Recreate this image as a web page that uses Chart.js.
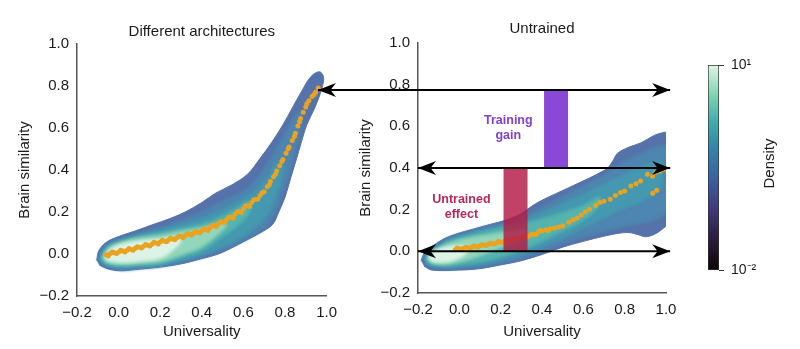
<!DOCTYPE html>
<html>
<head>
<meta charset="utf-8">
<title>Brain similarity vs universality</title>
<script src="https://cdn.jsdelivr.net/npm/chart.js@4.4.1/dist/chart.umd.min.js"></script>
<style>
  html, body { margin: 0; padding: 0; background: #fff; }
  #wrap { position: relative; width: 800px; height: 349px; overflow: hidden; }
  canvas { position: absolute; top: 0; }
  #left { left: 0; }
  #right { left: 300px; }
  #cbar { left: 690px; }
</style>
</head>
<body>
<div id="wrap">
  <canvas id="left" width="345" height="349"></canvas>
  <canvas id="right" width="390" height="349"></canvas>
  <canvas id="cbar" width="110" height="349"></canvas>
</div>
<script>
// ---- data ----
const X_TICKS = [-0.2, 0.0, 0.2, 0.4, 0.6, 0.8, 1.0];
const Y_TICKS = [-0.2, 0.0, 0.2, 0.4, 0.6, 0.8, 1.0];
const CBAR_TICKS = [0.01, 10];
const CBAR_LABELS = ["10\u207B\u00B2", "10\u00B9"];

// density contours (outer -> inner), "Different architectures"
const archContours = [
  [[-0.105,-0.03],[-0.095,0.015],[-0.06,0.055],[0.0,0.083],[0.08,0.11],[0.165,0.14],[0.25,0.17],[0.32,0.2],[0.40,0.245],[0.467,0.29],[0.546,0.33],[0.62,0.38],[0.68,0.455],[0.735,0.53],[0.79,0.615],[0.835,0.695],[0.88,0.775],[0.925,0.845],[0.965,0.868],[0.985,0.845],[0.978,0.79],[0.945,0.70],[0.905,0.615],[0.878,0.53],[0.856,0.455],[0.83,0.37],[0.80,0.27],[0.77,0.2],[0.74,0.14],[0.68,0.1],[0.60,0.058],[0.55,0.032],[0.48,0.0],[0.40,-0.022],[0.32,-0.043],[0.24,-0.057],[0.165,-0.066],[0.08,-0.074],[0.006,-0.08],[-0.055,-0.07],[-0.093,-0.052]],
  [[-0.1,-0.03],[-0.085,0.015],[-0.05,0.05],[0.03,0.077],[0.1,0.098],[0.2,0.125],[0.3,0.16],[0.4,0.2],[0.5,0.25],[0.6,0.3],[0.68,0.38],[0.74,0.47],[0.8,0.57],[0.85,0.66],[0.88,0.68],[0.875,0.6],[0.85,0.5],[0.825,0.4],[0.79,0.3],[0.755,0.2],[0.705,0.13],[0.6,0.065],[0.5,0.02],[0.4,-0.015],[0.3,-0.038],[0.2,-0.058],[0.1,-0.068],[0.03,-0.075],[-0.04,-0.066],[-0.085,-0.05]],
  [[-0.09,-0.028],[-0.078,0.012],[-0.045,0.045],[0.03,0.072],[0.1,0.09],[0.2,0.113],[0.3,0.14],[0.4,0.168],[0.5,0.21],[0.6,0.262],[0.67,0.31],[0.72,0.37],[0.765,0.44],[0.79,0.42],[0.775,0.33],[0.745,0.25],[0.7,0.17],[0.6,0.085],[0.5,0.035],[0.4,-0.005],[0.3,-0.03],[0.2,-0.052],[0.1,-0.06],[0.03,-0.066],[-0.03,-0.06],[-0.075,-0.046]],
  [[-0.082,-0.025],[-0.07,0.01],[-0.04,0.04],[0.03,0.066],[0.1,0.083],[0.2,0.1],[0.3,0.122],[0.4,0.142],[0.5,0.18],[0.58,0.225],[0.63,0.25],[0.625,0.19],[0.56,0.125],[0.48,0.07],[0.4,0.015],[0.3,-0.018],[0.2,-0.046],[0.1,-0.053],[0.03,-0.057],[-0.03,-0.053],[-0.07,-0.04]],
  [[-0.075,-0.022],[-0.064,0.008],[-0.035,0.036],[0.03,0.06],[0.1,0.075],[0.2,0.088],[0.3,0.108],[0.4,0.125],[0.48,0.145],[0.52,0.14],[0.48,0.095],[0.4,0.035],[0.3,-0.003],[0.2,-0.036],[0.1,-0.044],[0.03,-0.049],[-0.03,-0.045],[-0.065,-0.035]],
  [[-0.066,-0.018],[-0.055,0.006],[-0.03,0.03],[0.03,0.05],[0.1,0.062],[0.2,0.07],[0.28,0.08],[0.3,0.06],[0.25,0.01],[0.2,-0.02],[0.1,-0.035],[0.03,-0.04],[-0.03,-0.036],[-0.058,-0.028]]
];

// density contours (outer -> inner), "Untrained"
const untrainedContours = [
  [[-0.185,-0.045],[-0.17,-0.01],[-0.13,0.025],[-0.053,0.07],[0.108,0.118],[0.27,0.166],[0.38,0.235],[0.55,0.315],[0.71,0.394],[0.74,0.43],[0.765,0.47],[0.82,0.5],[0.877,0.52],[0.94,0.555],[0.975,0.567],[1.01,0.567],[1.01,0.14],[0.98,0.105],[0.94,0.08],[0.9,0.07],[0.865,0.08],[0.82,0.09],[0.76,0.085],[0.71,0.075],[0.6,0.048],[0.5,0.02],[0.4,-0.015],[0.3,-0.045],[0.2,-0.065],[0.1,-0.083],[0.0,-0.09],[-0.133,-0.09],[-0.17,-0.072]],
  [[-0.175,-0.042],[-0.16,-0.008],[-0.12,0.022],[-0.05,0.062],[0.1,0.108],[0.27,0.152],[0.4,0.21],[0.55,0.29],[0.7,0.365],[0.78,0.42],[0.88,0.47],[1.01,0.5],[1.01,0.2],[0.94,0.15],[0.85,0.13],[0.75,0.11],[0.6,0.07],[0.5,0.038],[0.4,0.0],[0.3,-0.035],[0.2,-0.055],[0.1,-0.073],[-0.05,-0.083],[-0.13,-0.078],[-0.165,-0.062]],
  [[-0.168,-0.04],[-0.15,-0.006],[-0.11,0.02],[-0.05,0.056],[0.1,0.1],[0.27,0.14],[0.4,0.185],[0.55,0.25],[0.7,0.32],[0.82,0.38],[0.92,0.42],[0.98,0.43],[0.97,0.3],[0.88,0.24],[0.78,0.2],[0.68,0.15],[0.55,0.09],[0.45,0.045],[0.35,0.005],[0.25,-0.03],[0.1,-0.062],[-0.05,-0.075],[-0.12,-0.072],[-0.158,-0.058]],
  [[-0.16,-0.038],[-0.14,-0.005],[-0.1,0.018],[-0.05,0.048],[0.1,0.088],[0.25,0.12],[0.4,0.155],[0.5,0.185],[0.6,0.22],[0.68,0.26],[0.66,0.2],[0.58,0.14],[0.48,0.09],[0.38,0.04],[0.25,-0.01],[0.1,-0.05],[-0.05,-0.068],[-0.12,-0.066],[-0.15,-0.054]],
  [[-0.155,-0.036],[-0.135,-0.005],[-0.1,0.015],[-0.05,0.038],[0.05,0.065],[0.15,0.08],[0.25,0.095],[0.32,0.1],[0.3,0.06],[0.2,0.02],[0.1,-0.02],[0.0,-0.05],[-0.08,-0.062],[-0.14,-0.052]],
  [[-0.15,-0.034],[-0.13,-0.008],[-0.1,0.01],[-0.05,0.022],[0.0,0.026],[0.05,0.02],[0.02,-0.02],[-0.04,-0.046],[-0.1,-0.052],[-0.135,-0.046]]
];

// model points
const archDots = [
  [-0.06,-0.004],[-0.04,0.002],[-0.02,0.006],[0.0,0.01],[0.02,0.014],[0.04,0.018],[0.06,0.022],[0.08,0.027],[0.10,0.032],[0.12,0.037],[0.14,0.042],[0.16,0.047],[0.18,0.052],[0.20,0.057],[0.22,0.062],[0.24,0.067],[0.26,0.072],[0.28,0.077],[0.30,0.083],[0.32,0.088],[0.34,0.094],[0.36,0.099],[0.38,0.104],[0.40,0.11],[0.42,0.117],[0.44,0.125],[0.46,0.134],[0.48,0.143],[0.50,0.153],[0.52,0.164],[0.54,0.176],[0.56,0.189],[0.58,0.202],[0.60,0.216],[0.62,0.23],[0.64,0.245],[0.66,0.26],[0.68,0.278],[0.70,0.297],[0.715,0.32],[0.73,0.345],[0.745,0.368],[0.76,0.395],[0.775,0.42],[0.79,0.45],[0.805,0.48],[0.82,0.51],[0.835,0.54],[0.85,0.575],[0.862,0.61],[0.875,0.645],[0.888,0.675],[0.90,0.70],[0.915,0.73],[0.93,0.75],[0.947,0.77],[0.96,0.79],
  [-0.05,-0.01],[-0.03,0.01],[-0.01,0.002],[0.01,0.018],[0.03,0.01],[0.05,0.026],[0.07,0.018],[0.09,0.035],[0.11,0.028],[0.13,0.045],[0.15,0.038],[0.17,0.056],[0.19,0.048],[0.21,0.066],[0.23,0.058],[0.25,0.076],[0.27,0.068],[0.29,0.086],[0.31,0.078],[0.33,0.098],[0.35,0.09],[0.37,0.108],[0.39,0.1],[0.41,0.12],[0.43,0.112],[0.45,0.136],[0.47,0.13],[0.49,0.154],[0.51,0.15],[0.53,0.175],[0.55,0.17],[0.57,0.2],[0.59,0.198],[0.61,0.228],[0.63,0.226],[0.65,0.258],[0.67,0.262],[0.69,0.292],[0.725,0.33],[0.755,0.38],[0.785,0.44],[0.815,0.5],[0.845,0.56],[0.87,0.63],[0.905,0.715],[0.94,0.76]
];
const untrainedDots = [
  [-0.02,0.008],[0.0,0.012],[0.02,0.015],[0.04,0.018],[0.06,0.02],[0.08,0.024],[0.1,0.027],[0.12,0.03],[0.14,0.034],[0.16,0.037],[0.18,0.04],[0.2,0.045],[0.22,0.05],[0.24,0.054],[0.26,0.058],[0.28,0.063],[0.3,0.067],[0.32,0.072],[0.34,0.076],[0.36,0.082],[0.38,0.09],[0.4,0.098],[0.42,0.104],[0.44,0.108],[0.46,0.112],[0.48,0.117],[0.5,0.122],[0.53,0.14],[0.55,0.152],[0.57,0.16],[0.59,0.175],[0.61,0.19],[0.63,0.202],[0.66,0.22],[0.68,0.234],[0.7,0.24],[0.73,0.25],[0.755,0.268],[0.78,0.282],[0.8,0.29],[0.83,0.314],[0.855,0.325],[0.877,0.338],[0.91,0.37],[0.935,0.36],[0.95,0.378],[0.97,0.385],[0.99,0.394],[0.936,0.279],[0.955,0.293],
  [-0.01,0.016],[0.01,0.008],[0.03,0.02],[0.05,0.014],[0.07,0.026],[0.09,0.02],[0.11,0.032],[0.13,0.028],[0.15,0.04],[0.17,0.035],[0.19,0.048],[0.21,0.042],[0.23,0.058],[0.25,0.05],[0.27,0.064],[0.29,0.06],[0.31,0.074],[0.33,0.07],[0.35,0.082],[0.37,0.08],[0.39,0.1],[0.43,0.1]
];

// arrows and effect bars (right panel coordinates)
const topArrow = [[-0.684, 0.775], [1.02, 0.775]];
const midArrow = [[-0.2, 0.4], [1.02, 0.4]];
const lowArrow = [[-0.2, 0.0], [1.02, 0.0]];
const gainBar = [[0.468, 0.4], [0.468, 0.775]];
const effectBar = [[0.272, 0.0], [0.272, 0.4]];

// ---- styling ----
const FONT = "'Liberation Sans', Arial, Helvetica, sans-serif";
const TEXT = "#1a1a1a";
const AXIS = "#555";
const DENSITY_COLORS = ["#5573aa", "#4d86b0", "#4499b0", "#55b4ae", "#93d6bb", "#dcf3e5"];
const DOT_COLOR = "#e9a321";
const MAKO = [[0, "#0b0405"], [0.15, "#2b1c3f"], [0.3, "#403a7a"], [0.45, "#3a62a0"], [0.6, "#3486a8"], [0.72, "#3fabad"], [0.85, "#7dd2b0"], [1, "#def5e5"]];

Chart.defaults.font.family = FONT;
Chart.defaults.color = TEXT;

const toPts = (arr) => arr.map(([x, y]) => ({ x, y }));
const fmt = (v) => (v < -1e-9 ? "\u2212" : "") + Math.abs(v).toFixed(1);

function densityLayers(contours) {
  return contours.map((c, i) => ({
    type: "line",
    data: toPts(c),
    fill: "shape",
    density: i === 0 ? "outer" : i === contours.length - 1 ? "last" : "layer",
    backgroundColor: DENSITY_COLORS[i],
    borderColor: DENSITY_COLORS[i],
    borderWidth: 1,
    pointRadius: 0,
    tension: 0.35,
    order: 100 - i,
  }));
}

function dotsLayer(dots) {
  return {
    type: "scatter",
    data: toPts(dots),
    backgroundColor: DOT_COLOR,
    borderWidth: 0,
    pointRadius: 2.5,
    order: 20,
  };
}

function axes(xHeight, xTitlePad) {
  return {
    x: {
      type: "linear", min: -0.2, max: 1.0,
      grid: { display: false, drawTicks: false },
      border: { display: true, color: AXIS, width: 1.5 },
      ticks: { padding: 8, font: { size: 15 }, color: TEXT, callback: fmt },
      afterBuildTicks: (s) => { s.ticks = X_TICKS.map((v) => ({ value: v })); },
      afterFit: (s) => { s.height = xHeight; },
      title: { display: true, text: "Universality", color: TEXT, font: { size: 15 }, padding: { top: 0, bottom: xTitlePad } },
    },
    y: {
      type: "linear", min: -0.2, max: 1.0,
      grid: { display: false, drawTicks: false },
      border: { display: true, color: AXIS, width: 1.5 },
      ticks: { padding: 8, font: { size: 15 }, color: TEXT, callback: fmt },
      afterBuildTicks: (s) => { s.ticks = Y_TICKS.map((v) => ({ value: v })); },
      afterFit: (s) => { s.width = 77; },
      title: { display: true, text: "Brain similarity", color: TEXT, font: { size: 15 }, padding: { top: 16, bottom: 0 } },
    },
  };
}

// soften the steps between inner density levels, keep the outer edge crisp
const densityBlur = {
  id: "densityBlur",
  afterDatasetDraw(chart, args) {
    const kind = chart.data.datasets[args.index].density;
    if (kind === "outer") {
      chart.ctx.save();
      chart.ctx.filter = "blur(1.6px)";
    } else if (kind === "last") {
      chart.ctx.restore();
    }
  },
};

// stealth arrow heads at the ends of arrow datasets
const arrowHeads = {
  id: "arrowHeads",
  afterDatasetsDraw(chart) {
    const ctx = chart.ctx;
    chart.data.datasets.forEach((ds, i) => {
      if (!ds.arrow) return;
      const pts = chart.getDatasetMeta(i).data;
      const a = pts[0], b = pts[pts.length - 1];
      [[a, -1], [b, 1]].forEach(([p, d]) => {
        ctx.save();
        ctx.fillStyle = "#000";
        ctx.beginPath();
        ctx.moveTo(p.x, p.y);
        ctx.lineTo(p.x - d * 18, p.y - 7);
        ctx.lineTo(p.x - d * 12.5, p.y);
        ctx.lineTo(p.x - d * 18, p.y + 7);
        ctx.closePath();
        ctx.fill();
        ctx.restore();
      });
    });
  },
};

// "Training gain" / "Untrained effect" labels
const effectLabels = {
  id: "effectLabels",
  afterDatasetsDraw(chart) {
    const { ctx, scales: { x, y } } = chart;
    const items = [
      { lines: ["Training", "gain"], x: 0.237, y: 0.59, color: "#8241cc" },
      { lines: ["Untrained", "effect"], x: 0.01, y: 0.214, color: "#b52a58" },
    ];
    ctx.save();
    ctx.font = "bold 12.5px " + FONT;
    ctx.textAlign = "center";
    ctx.textBaseline = "middle";
    items.forEach((it) => {
      const px = x.getPixelForValue(it.x);
      const py = y.getPixelForValue(it.y);
      ctx.fillStyle = it.color;
      ctx.fillText(it.lines[0], px, py - 7.5);
      ctx.fillText(it.lines[1], px, py + 7.5);
    });
    ctx.restore();
  },
};

const common = {
  responsive: false,
  animation: false,
  events: [],
  devicePixelRatio: 1,
};

// ---- left panel ----
new Chart(document.getElementById("left"), {
  type: "scatter",
  data: { datasets: [...densityLayers(archContours), dotsLayer(archDots)] },
  options: {
    ...common,
    layout: { padding: { left: 0, right: 18, top: 0, bottom: 0 } },
    plugins: {
      legend: { display: false },
      tooltip: { enabled: false },
      title: { display: true, text: "Different architectures", fullSize: false, color: TEXT, font: { size: 15, weight: "normal" }, padding: { top: 23, bottom: 3 } },
    },
    scales: axes(53, 8),
  },
  plugins: [densityBlur],
});

// ---- right panel ----
function arrowLine(pts) {
  return { type: "line", data: toPts(pts), arrow: true, borderColor: "#000", borderWidth: 2, pointRadius: 0, clip: false, order: 5 };
}
new Chart(document.getElementById("right"), {
  type: "scatter",
  data: {
    datasets: [
      ...densityLayers(untrainedContours),
      dotsLayer(untrainedDots),
      { type: "line", data: toPts(gainBar), borderColor: "#8a48d6", borderWidth: 24, borderCapStyle: "butt", pointRadius: 0, order: 12 },
      { type: "line", data: toPts(effectBar), borderColor: "rgba(178,26,70,0.82)", borderWidth: 24, borderCapStyle: "butt", pointRadius: 0, order: 11 },
      arrowLine(topArrow),
      arrowLine(midArrow),
      arrowLine(lowArrow),
    ],
  },
  options: {
    ...common,
    layout: { padding: { left: 41, right: 24, top: 0, bottom: 0 } },
    plugins: {
      legend: { display: false },
      tooltip: { enabled: false },
      title: { display: true, text: "Untrained", fullSize: false, color: TEXT, font: { size: 15, weight: "normal" }, padding: { top: 20, bottom: 5 } },
    },
    scales: axes(56, 8),
  },
  plugins: [densityBlur, effectLabels, arrowHeads],
});

// ---- colour bar ----
const densityTitle = {
  id: "densityTitle",
  afterDraw(chart) {
    const { ctx, chartArea } = chart;
    ctx.save();
    ctx.translate(80, (chartArea.top + chartArea.bottom) / 2 - 4);
    ctx.rotate(-Math.PI / 2);
    ctx.textAlign = "center";
    ctx.textBaseline = "middle";
    ctx.fillStyle = TEXT;
    ctx.font = "15px " + FONT;
    ctx.fillText("Density", 0, 0);
    ctx.restore();
  },
};
new Chart(document.getElementById("cbar"), {
  type: "bar",
  data: {
    labels: [""],
    datasets: [{
      data: [[CBAR_TICKS[0], CBAR_TICKS[1]]],
      backgroundColor: (c) => {
        const area = c.chart.chartArea;
        if (!area) return "#3486a8";
        const g = c.chart.ctx.createLinearGradient(0, area.bottom, 0, area.top);
        MAKO.forEach(([s, col]) => g.addColorStop(s, col));
        return g;
      },
      borderColor: "#333",
      borderWidth: 1,
      borderSkipped: false,
      barPercentage: 1,
      categoryPercentage: 1,
    }],
  },
  options: {
    ...common,
    layout: { padding: { left: 18, right: 0, top: 65, bottom: 79 } },
    plugins: { legend: { display: false }, tooltip: { enabled: false } },
    scales: {
      x: { type: "category", display: false },
      y: {
        type: "logarithmic", position: "right", min: CBAR_TICKS[0], max: CBAR_TICKS[1],
        grid: { display: true, drawOnChartArea: false, drawTicks: true, tickLength: 5, color: "#333" },
        border: { display: false },
        ticks: {
          padding: 7, font: { size: 14 }, color: TEXT,
          callback: (v) => {
            const i = CBAR_TICKS.findIndex((t) => Math.abs(Math.log10(t) - Math.log10(v)) < 1e-6);
            return i >= 0 ? CBAR_LABELS[i] : "";
          },
        },
        afterBuildTicks: (s) => { s.ticks = CBAR_TICKS.map((v) => ({ value: v })); },
        afterFit: (s) => { s.width = 81; },
      },
    },
  },
  plugins: [densityTitle],
});
</script>
</body>
</html>
